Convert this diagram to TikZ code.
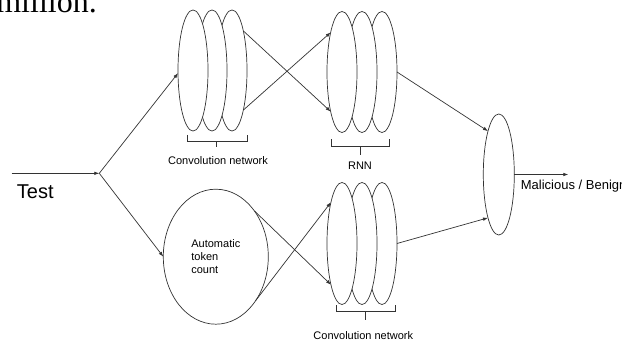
\documentclass[tikz,border=0pt]{standalone}
\usepackage{fontspec}
\setmainfont{Liberation Sans}
\newfontfamily\serifword{Liberation Serif}
\usetikzlibrary{shapes.geometric,arrows.meta}
\definecolor{ink}{HTML}{333333}
\tikzset{
  disc/.style={ellipse, draw=ink, line width=0.7pt, fill=white, inner sep=0pt, outer sep=0pt,
               minimum width=30pt, minimum height=121pt},
  arr/.style={draw=ink, line width=0.7pt, -{Latex[length=5pt,width=3.6pt]}},
  plain/.style={draw=ink, line width=0.7pt},
  lbl/.style={inner sep=0pt, font=\fontsize{11}{13.3}\selectfont},
}
\begin{document}
\begin{tikzpicture}[x=1pt,y=-1pt]
\path[use as bounding box, clip] (0,0) rectangle (622,344);
\fill[white] (0,0) rectangle (622,344);

% cropped text line at the top
\node[inner sep=0pt, anchor=base east, font=\serifword\fontsize{32}{36}\selectfont] (topword) at (97,13) {million.};

% top convolution stack (front disc on the left)
\node[disc] (tc3) at (232,70.5) {};
\node[disc] (tc2) at (212,70.5) {};
\node[disc] (tc1) at (193,70.5) {};
\draw[plain] (187.3,135) -- (187.3,141.7) -- (247.3,141.7) -- (247.3,135) (216.7,141.7) -- (216.7,147.5);
\node[lbl, anchor=base] (tclbl) at (218,165) {Convolution network};

% top RNN stack
\node[disc] (rn3) at (382,72) {};
\node[disc] (rn2) at (362,72) {};
\node[disc] (rn1) at (342,72) {};
\draw[plain] (331,139.3) -- (331,146.7) -- (389.3,146.7) -- (389.3,139.3) (360,146.7) -- (360,155);
\node[lbl, anchor=base] (rnlbl) at (360,170) {RNN};

% bottom convolution stack
\node[disc, minimum height=122pt] (bc3) at (382,243.5) {};
\node[disc, minimum height=122pt] (bc2) at (362,243.5) {};
\node[disc, minimum height=122pt] (bc1) at (342,243.5) {};
\draw[plain] (336,305.5) -- (336,311.7) -- (395,311.7) -- (395,305.5) (365,311.7) -- (365,320.5);
\node[lbl, anchor=base] (bclbl) at (363.3,340) {Convolution network};

% automatic token count
\node[ellipse, draw=ink, line width=0.7pt, inner sep=0pt, outer sep=0pt,
      minimum width=105pt, minimum height=135pt, align=left,
      font=\fontsize{11}{13.3}\selectfont] (atc) at (215.8,256.7) {Automatic\\token\\count};

% output
\node[disc, minimum width=31pt] (out) at (498.8,174.5) {};
\coordinate (end) at (568.3,174.5);
\node[inner sep=0pt, anchor=base west, font=\fontsize{13}{15}\selectfont] (outlbl) at (520.7,189.3) {Malicious / Benign};

% input
\coordinate (in) at (11.7,173.3);
\coordinate (split) at (99.3,173.3);
\node[inner sep=0pt, anchor=base west, font=\fontsize{20}{24}\selectfont] (test) at (16.7,198.3) {Test};

% connectors
\draw[arr] (in) -- (split);
\draw[arr] (split) -- (tc1.190);
\draw[arr] (split) -- (atc.180);
\draw[arr] (tc3.74) -- (rn1.254);
\draw[arr] (tc3.286) -- (rn1.106);
\draw[arr] (atc.50) -- (bc1.255);
\draw[arr] (atc.-48) -- (bc1.105);
\draw[arr] (rn3.east) -- (out.104);
\draw[arr] (bc3.east) -- (out.256);
\draw[arr] (out.east) -- (end);
\end{tikzpicture}
\end{document}
